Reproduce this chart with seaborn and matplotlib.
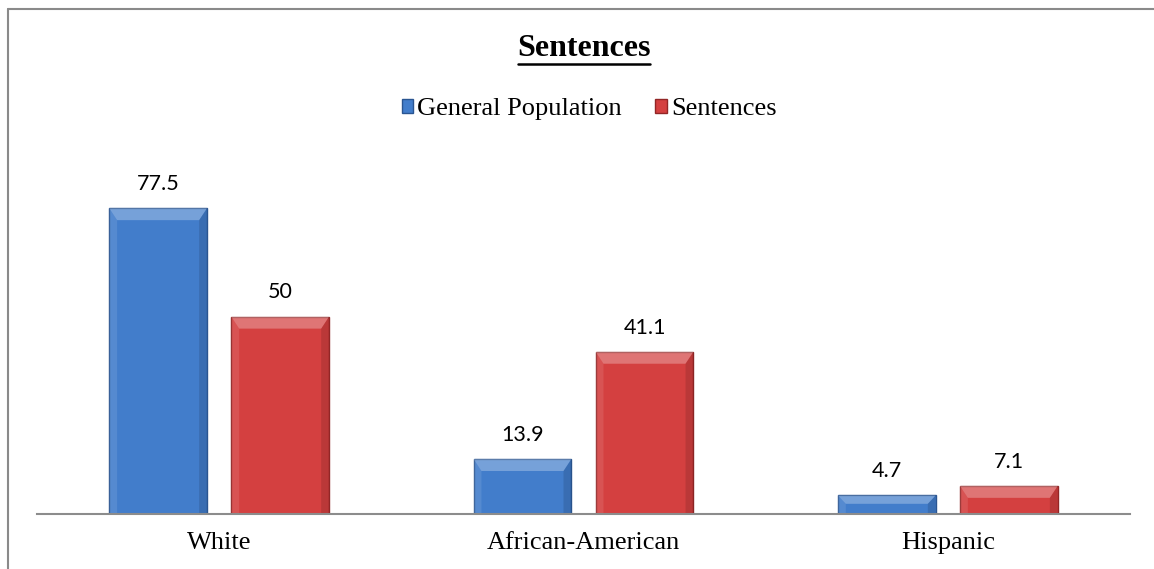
import matplotlib
matplotlib.use("Agg")
import matplotlib.pyplot as plt
import seaborn as sns
import pandas as pd
from matplotlib.patches import Rectangle, Polygon

groups = ["White", "African-American", "Hispanic"]
series = ["General Population", "Sentences"]
general_population = [77.5, 13.9, 4.7]
sentences = [50, 41.1, 7.1]
value_labels = {"General Population": ["77.5", "13.9", "4.7"],
                "Sentences": ["50", "41.1", "7.1"]}

colors = {"General Population": "#427DCB", "Sentences": "#D44040"}
edge_colors = {"General Population": "#2A5591", "Sentences": "#922626"}

df = pd.DataFrame({
    "group": groups * 2,
    "series": [series[0]] * 3 + [series[1]] * 3,
    "value": general_population + sentences,
})

sns.set_theme(style="white")
plt.rcParams["font.family"] = ["Liberation Serif", "DejaVu Serif"]
plt.rcParams["text.color"] = "black"
plt.rcParams["xtick.color"] = "black"

fig = plt.figure(figsize=(11.54, 5.69), dpi=100)
ax = fig.add_axes([37 / 1154, 55 / 569, (1130 - 37) / 1154, 355 / 569])

sns.barplot(data=df, x="group", y="value", hue="series", order=groups,
            hue_order=series, palette=colors, width=0.67, gap=0.2,
            ax=ax, legend=False, saturation=1)

ax.set_ylim(0, 90)
ax.set_xlim(-0.5, 2.5)
for s in ["top", "right", "left"]:
    ax.spines[s].set_visible(False)
ax.spines["bottom"].set_color("#8c8c8c")
ax.spines["bottom"].set_linewidth(1.5)
ax.set_yticks([])
ax.set_xlabel("")
ax.set_ylabel("")
ax.tick_params(axis="x", length=0, pad=13, labelsize=19, labelcolor="black")
for t in ax.get_xticklabels():
    t.set_fontfamily("Liberation Serif")

# bevelled look on each bar plus its value label
for container, name in zip(ax.containers, series):
    for patch, label in zip(container.patches, value_labels[name]):
        x0, y0 = patch.get_x(), patch.get_y()
        w, h = patch.get_width(), patch.get_height()
        patch.set_edgecolor(edge_colors[name])
        patch.set_linewidth(1.0)
        bev_x = w * 0.08
        bev_y = min(h * 0.45, 3.0)
        top = Polygon([(x0, y0 + h), (x0 + w, y0 + h),
                       (x0 + w - bev_x, y0 + h - bev_y), (x0 + bev_x, y0 + h - bev_y)],
                      closed=True, facecolor="white", alpha=0.28, edgecolor="none")
        left = Polygon([(x0, y0), (x0, y0 + h), (x0 + bev_x, y0 + h - bev_y), (x0 + bev_x, y0)],
                       closed=True, facecolor="white", alpha=0.10, edgecolor="none")
        right = Polygon([(x0 + w, y0), (x0 + w, y0 + h), (x0 + w - bev_x, y0 + h - bev_y),
                         (x0 + w - bev_x, y0)],
                        closed=True, facecolor="black", alpha=0.12, edgecolor="none")
        for p in (top, left, right):
            ax.add_patch(p)
        ax.annotate(label, (x0 + w / 2, y0 + h), xytext=(0, 17.5),
                    textcoords="offset points", ha="center", va="center",
                    fontsize=15.5, family="Lato", color="black")

# legend
handles = [Rectangle((0, 0), 1, 1, facecolor=colors[s], edgecolor=edge_colors[s]) for s in series]
fig.legend(handles, series, loc="center", bbox_to_anchor=(589 / 1154, 1 - 109 / 569),
           ncol=2, frameon=False, handlelength=0.45, handleheight=0.45,
           handletextpad=0.15, columnspacing=1.25, labelcolor="black",
           prop={"family": "Liberation Serif", "size": 19})

# title
fig.text(584 / 1154, 1 - 49 / 569, "Sentences", ha="center", va="center",
         fontsize=23, fontweight="bold", family="Liberation Serif", color="black")
title_line_y = 1 - 64 / 569
fig.add_artist(plt.Line2D([518 / 1154, 650 / 1154], [title_line_y, title_line_y],
                          color="black", linewidth=1.8, transform=fig.transFigure))

# outer frame
fig.add_artist(plt.Line2D([8 / 1154, 8 / 1154], [0, 1 - 9 / 569], color="#8a8a8a",
                          linewidth=1.5, transform=fig.transFigure))
fig.add_artist(plt.Line2D([8 / 1154, 1], [1 - 9 / 569, 1 - 9 / 569], color="#8a8a8a",
                          linewidth=1.5, transform=fig.transFigure))

fig.savefig("out.png", dpi=100)
